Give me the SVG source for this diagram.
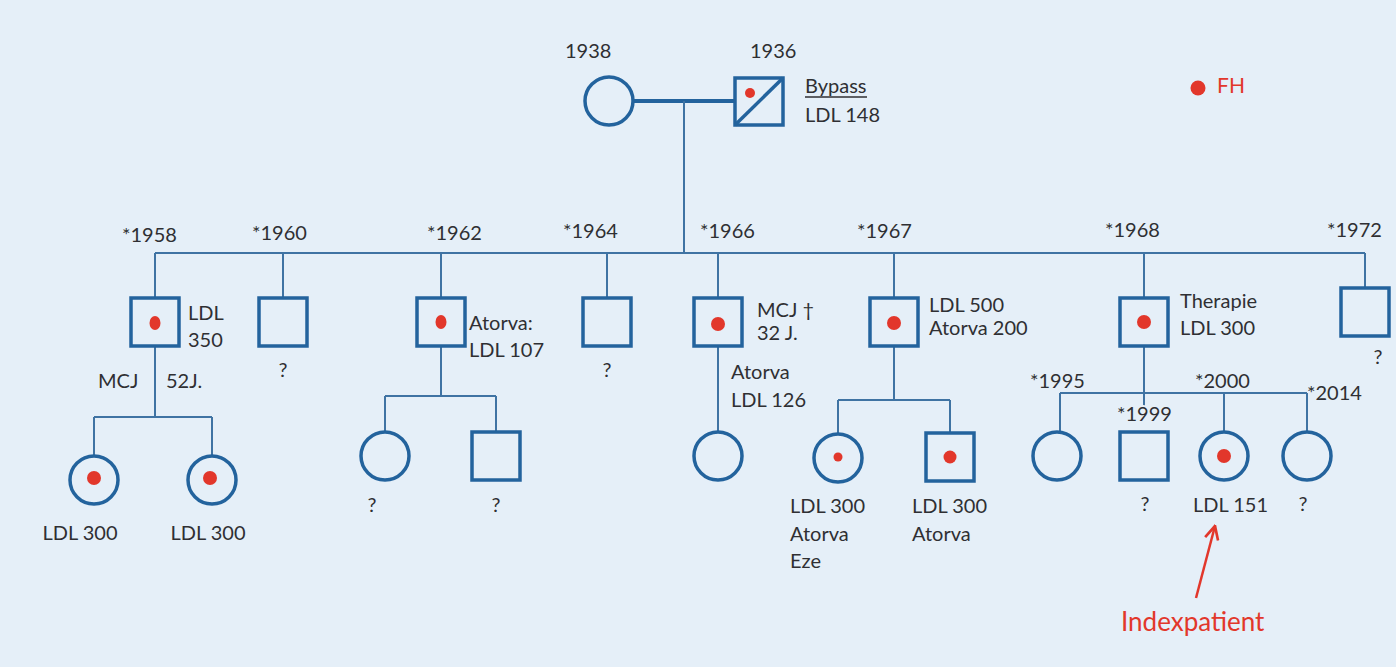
<svg xmlns="http://www.w3.org/2000/svg" width="1396" height="667" viewBox="0 0 1396 667">
<style>
.bg{fill:#e5eff8}
.n{fill:none;stroke:#23639d;stroke-width:3.5}
.c{fill:none;stroke:#3f73a3;stroke-width:2}
.m{fill:none;stroke:#23639d;stroke-width:4}
.d{fill:#e2372b}
text{font-family:Lato,"Liberation Sans",sans-serif;font-size:20px;fill:#2f2f33}
.r{fill:#e2372b}
</style>
<defs>
<marker id="ah" viewBox="0 0 12 12" refX="11" refY="6" markerWidth="16" markerHeight="16" markerUnits="userSpaceOnUse" orient="auto"><path d="M1,1 L11,6 L1,11" fill="none" stroke="#e2372b" stroke-width="2"/></marker>
</defs>
<rect class="bg" x="0" y="0" width="1396" height="667"/>

<g id="connectors">
<line class="m" x1="633" y1="101" x2="735" y2="101"/>
<line class="c" x1="684" y1="101" x2="684" y2="253"/>
<line class="c" x1="155" y1="253" x2="1365" y2="253"/>
<line class="c" x1="155" y1="253" x2="155" y2="298"/>
<line class="c" x1="283" y1="253" x2="283" y2="298"/>
<line class="c" x1="441" y1="253" x2="441" y2="298"/>
<line class="c" x1="607" y1="253" x2="607" y2="298"/>
<line class="c" x1="718" y1="253" x2="718" y2="298"/>
<line class="c" x1="894" y1="253" x2="894" y2="298"/>
<line class="c" x1="1144" y1="253" x2="1144" y2="298"/>
<line class="c" x1="1365" y1="253" x2="1365" y2="288"/>
<line class="c" x1="155" y1="347" x2="155" y2="417"/>
<line class="c" x1="94" y1="417" x2="212" y2="417"/>
<line class="c" x1="94" y1="417" x2="94" y2="456"/>
<line class="c" x1="212" y1="417" x2="212" y2="456"/>
<line class="c" x1="441" y1="347" x2="441" y2="396"/>
<line class="c" x1="385" y1="396" x2="496" y2="396"/>
<line class="c" x1="385" y1="396" x2="385" y2="432"/>
<line class="c" x1="496" y1="396" x2="496" y2="432"/>
<line class="c" x1="718" y1="347" x2="718" y2="432"/>
<line class="c" x1="894" y1="347" x2="894" y2="400"/>
<line class="c" x1="838" y1="400" x2="950" y2="400"/>
<line class="c" x1="838" y1="400" x2="838" y2="434"/>
<line class="c" x1="950" y1="400" x2="950" y2="433"/>
<line class="c" x1="1144" y1="347" x2="1144" y2="406"/>
<line class="c" x1="1060" y1="393" x2="1307" y2="393"/>
<line class="c" x1="1060" y1="393" x2="1060" y2="432"/>
<line class="c" x1="1224" y1="393" x2="1224" y2="432"/>
<line class="c" x1="1307" y1="393" x2="1307" y2="432"/>
<line x1="1196" y1="598" x2="1215" y2="526" stroke="#e2372b" stroke-width="2.5" marker-end="url(#ah)"/>
</g>

<g id="legend">
<circle class="d" cx="1198" cy="88" r="7.5"/>
<text x="1217" y="93" class="r" style="font-size:21px">FH</text>
</g>

<g id="gm1938">
<text x="565" y="58">1938</text>
<circle class="n" cx="609" cy="101" r="24"/>
</g>
<g id="gf1936">
<text x="750" y="58">1936</text>
<rect class="n" x="735" y="78" width="48" height="47"/>
<line class="n" x1="735" y1="125" x2="783" y2="78"/>
<circle class="d" cx="750" cy="93" r="5"/>
<text x="805" y="93">Bypass</text>
<line x1="805" y1="97" x2="867" y2="97" stroke="#2f2f33" stroke-width="1.3"/>
<text x="805" y="122">LDL 148</text>
</g>

<g id="s1958">
<text x="122" y="242">*1958</text>
<rect class="n" x="131" y="298" width="48" height="48"/>
<ellipse class="d" cx="155" cy="323" rx="5.5" ry="7"/>
<text x="188" y="320">LDL</text>
<text x="188" y="347">350</text>
<text x="98" y="388">MCJ</text>
<text x="166" y="388">52J.</text>
</g>
<g id="s1960">
<text x="252" y="240">*1960</text>
<rect class="n" x="259" y="298" width="48" height="48"/>
<text x="283" y="377" text-anchor="middle">?</text>
</g>
<g id="s1962">
<text x="427" y="240">*1962</text>
<rect class="n" x="417" y="298" width="48" height="48"/>
<ellipse class="d" cx="441" cy="322" rx="5.5" ry="7"/>
<text x="469" y="330">Atorva:</text>
<text x="469" y="357">LDL 107</text>
</g>
<g id="s1964">
<text x="563" y="238">*1964</text>
<rect class="n" x="583" y="298" width="48" height="48"/>
<text x="607" y="377" text-anchor="middle">?</text>
</g>
<g id="s1966">
<text x="700" y="238">*1966</text>
<rect class="n" x="694" y="298" width="48" height="48"/>
<circle class="d" cx="718" cy="324" r="7"/>
<text x="757" y="317">MCJ †</text>
<text x="757" y="340">32 J.</text>
<text x="731" y="379">Atorva</text>
<text x="731" y="407">LDL 126</text>
</g>
<g id="s1967">
<text x="857" y="238">*1967</text>
<rect class="n" x="870" y="298" width="48" height="48"/>
<circle class="d" cx="894" cy="323" r="7"/>
<text x="929" y="312">LDL 500</text>
<text x="929" y="335">Atorva 200</text>
</g>
<g id="s1968">
<text x="1105" y="237">*1968</text>
<rect class="n" x="1120" y="298" width="48" height="48"/>
<circle class="d" cx="1144" cy="322" r="7"/>
<text x="1180" y="308">Therapie</text>
<text x="1180" y="335">LDL 300</text>
</g>
<g id="s1972">
<text x="1327" y="237">*1972</text>
<rect class="n" x="1341" y="288" width="48" height="48"/>
<text x="1378" y="364" text-anchor="middle">?</text>
</g>

<g id="k1958a">
<circle class="n" cx="94" cy="480" r="24"/>
<circle class="d" cx="94" cy="478" r="7"/>
<text x="80" y="540" text-anchor="middle">LDL 300</text>
</g>
<g id="k1958b">
<circle class="n" cx="212" cy="480" r="24"/>
<circle class="d" cx="210" cy="478" r="7"/>
<text x="208" y="540" text-anchor="middle">LDL 300</text>
</g>
<g id="k1962a">
<circle class="n" cx="385" cy="456" r="24"/>
<text x="372" y="512" text-anchor="middle">?</text>
</g>
<g id="k1962b">
<rect class="n" x="472" y="432" width="48" height="48"/>
<text x="496" y="512" text-anchor="middle">?</text>
</g>
<g id="k1966">
<circle class="n" cx="718" cy="456" r="24"/>
</g>
<g id="k1967a">
<circle class="n" cx="838" cy="458" r="24"/>
<circle class="d" cx="838" cy="457" r="4.5"/>
<text x="790" y="513">LDL 300</text>
<text x="790" y="541">Atorva</text>
<text x="790" y="568">Eze</text>
</g>
<g id="k1967b">
<rect class="n" x="926" y="433" width="48" height="48"/>
<circle class="d" cx="950" cy="457" r="6.5"/>
<text x="912" y="513">LDL 300</text>
<text x="912" y="541">Atorva</text>
</g>
<g id="k1995">
<text x="1030" y="388">*1995</text>
<circle class="n" cx="1057" cy="456" r="24"/>
</g>
<g id="k1999">
<rect class="n" x="1120" y="432" width="48" height="48"/>
<text x="1117" y="421" style="paint-order:stroke" stroke="#e5eff8" stroke-width="4">*1999</text>
<text x="1145" y="511" text-anchor="middle">?</text>
</g>
<g id="k2000">
<text x="1195" y="388">*2000</text>
<circle class="n" cx="1224" cy="456" r="24"/>
<circle class="d" cx="1224" cy="456" r="7"/>
<text x="1193" y="512">LDL 151</text>
</g>
<g id="k2014">
<text x="1307" y="400">*2014</text>
<circle class="n" cx="1307" cy="456" r="24"/>
<text x="1303" y="511" text-anchor="middle">?</text>
</g>
<g id="index">
<text x="1121" y="631" class="r" style="font-size:26px">Indexpatient</text>
</g>
</svg>
